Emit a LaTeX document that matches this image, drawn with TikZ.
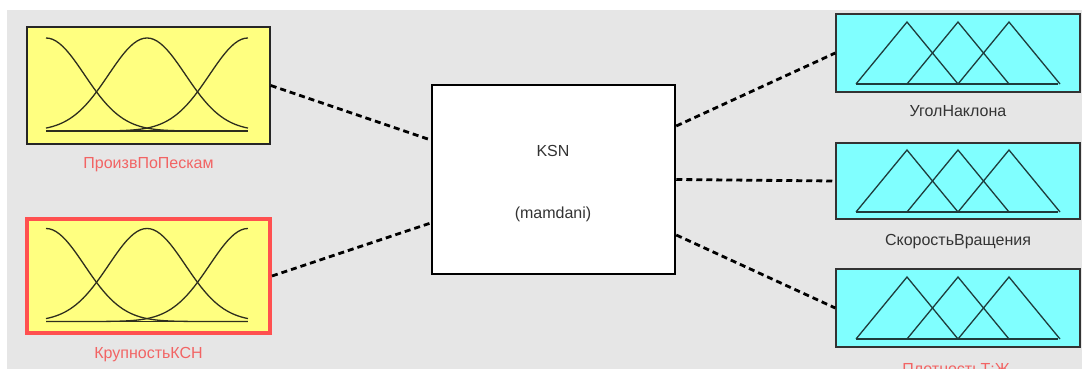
\documentclass[tikz,border=0pt]{standalone}
\usepackage{fontspec}
\setmainfont{Liberation Sans}
\usetikzlibrary{positioning, calc}
\definecolor{FisGray}{HTML}{E6E6E6}
\definecolor{FisYellow}{HTML}{FFFF80}
\definecolor{FisCyan}{HTML}{80FFFF}
\definecolor{FisRed}{HTML}{FF5050}
\definecolor{FisLabelRed}{HTML}{F26464}
\definecolor{FisText}{HTML}{333333}
\definecolor{FisCurve}{HTML}{2E2E1E}
\definecolor{FisTri}{HTML}{1E3C3C}
\tikzset{
    inbox/.style={
        draw=black!85,
        line width=1.5pt,
        fill=FisYellow,
        minimum width=243pt,
        minimum height=117pt,
        inner sep=0pt
    },
    outbox/.style={
        draw=black!80,
        line width=1.5pt,
        fill=FisCyan,
        minimum width=244pt,
        minimum height=78pt,
        inner sep=0pt
    },
    fisbox/.style={
        draw=black,
        line width=2.5pt,
        fill=white,
        minimum width=243pt,
        minimum height=189pt,
        inner sep=0pt
    },
    varlabel/.style={
        text=#1,
        font=\fontsize{16}{19}\selectfont,
        anchor=base,
        inner sep=0pt
    },
    varlabel/.default=FisText,
    link/.style={
        line width=2.8pt,
        dash pattern=on 6pt off 4pt,
        black
    },
    mf/.style={
        line width=1.3pt,
        FisCurve
    },
    tri/.style={
        line width=1.3pt,
        FisTri
    }
}

\begin{document}
\begin{tikzpicture}[x=1pt, y=-1pt]
        \useasboundingbox (0,0) rectangle (1085,369);
        \clip (0,0) rectangle (1085,369);
        \fill[FisGray] (7,10) rectangle (1082,369);

        % Inputs
        \node[inbox] (in1) at (148.5,85.5) {};
        \node[varlabel=FisLabelRed] (in1lbl) at (148.5,168) {ПроизвПоПескам};
        \node[inbox, draw=FisRed, line width=4pt, minimum height=114pt] (in2) at (148.5,276) {};
        \node[varlabel=FisLabelRed] (in2lbl) at (148.5,358) {КрупностьКСН};

        % Membership functions of the inputs
        \foreach \b in {in1,in2} {
            \begin{scope}[shift={(\b.center)}]
                \draw[mf] (-102.5,45.5) -- (99.5,45.5);
                \foreach \c in {0,0.5,1}
                    \draw[mf] plot[domain=0:1, samples=61] ({-102.5+202*\x}, {45.5-93*exp(-((\x-\c)*(\x-\c))/0.0722)});
            \end{scope}
        }

        % FIS block
        \node[fisbox] (fis) at (553.5,179.5) {};
        \node[varlabel] (fisname) at (553,156) {KSN};
        \node[varlabel] (fistype) at (553,218) {(mamdani)};

        % Outputs
        \node[outbox] (out1) at (958,53) {};
        \node[varlabel] (out1lbl) at (958,117) {УголНаклона};
        \node[outbox, minimum height=76pt] (out2) at (958,181) {};
        \node[varlabel] (out2lbl) at (958,245) {СкоростьВращения};
        \node[outbox] (out3) at (958,308) {};
        \node[varlabel=FisLabelRed] (out3lbl) at (956,374.5) {ПлотностьТ:Ж};

        % Membership functions of the outputs
        \foreach \b in {out1,out2,out3} {
            \begin{scope}[shift={(\b.center)}]
                \draw[tri] (-102,31) -- (100,31);
                \foreach \c in {-51,0,51}
                    \draw[tri] (\c-51,31) -- (\c,-31) -- (\c+51,31);
            \end{scope}
        }

        % Connections
        \draw[link] (in1.east) -- ([yshift=39.5pt]fis.west);
        \draw[link] (in2.east) -- ([yshift=-43.5pt]fis.west);
        \draw[link] ([yshift=53.5pt]fis.east) -- (out1.west);
        \draw[link] (fis.east) -- (out2.west);
        \draw[link] ([yshift=-55.5pt]fis.east) -- (out3.west);
    \end{tikzpicture}
\end{document}
